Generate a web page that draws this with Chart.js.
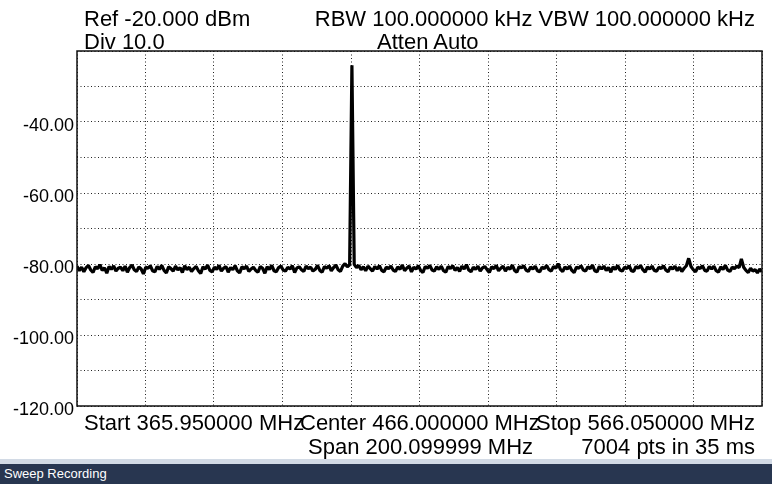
<!DOCTYPE html>
<html>
<head>
<meta charset="utf-8">
<script src="https://cdn.jsdelivr.net/npm/chart.js@4.4.1/dist/chart.umd.min.js"></script>
<style>
  html, body { margin: 0; padding: 0; background: #fff; }
  #wrap { position: relative; width: 772px; height: 484px; overflow: hidden; font-family: "Liberation Sans", Arial, sans-serif; }
  #chartBox { position: absolute; left: 0; top: 0; width: 772px; height: 463px; }
  .lbl { position: absolute; font-size: 22px; line-height: 22px; color: #000; white-space: nowrap; }
  #strip { position: absolute; left: 0; top: 459px; width: 772px; height: 5px; background: #d2dae5; }
  #status { position: absolute; left: 0; top: 464px; width: 772px; height: 20px; background: #283650; color: #fff;
            font-size: 13px; line-height: 20px; padding-left: 4px; box-sizing: border-box; }
</style>
</head>
<body>
<div id="wrap">
  <div id="chartBox"><canvas id="spectrum"></canvas></div>

  <div class="lbl" style="left:84px; top:8px;">Ref -20.000 dBm</div>
  <div class="lbl" style="right:17px; top:8px;">RBW 100.000000 kHz VBW 100.000000 kHz</div>
  <div class="lbl" style="left:84px; top:31px;">Div 10.0</div>
  <div class="lbl" style="left:377px; top:31px;">Atten Auto</div>

  <div class="lbl" style="left:84px; top:412px;">Start 365.950000 MHz</div>
  <div class="lbl" style="left:300px; top:412px;">Center 466.000000 MHz</div>
  <div class="lbl" style="right:17px; top:412px;">Stop 566.050000 MHz</div>
  <div class="lbl" style="left:308px; top:436px;">Span 200.099999 MHz</div>
  <div class="lbl" style="right:17px; top:436px;">7004 pts in 35 ms</div>

  <div id="strip"></div>
  <div id="status">Sweep Recording</div>
</div>

<script>
// sweep settings
const startMHz = 365.95;
const stopMHz = 566.05;
const xDivisions = 10;

// y axis
const refDbm = -20;
const bottomDbm = -120;
const yTickLabels = [-40, -60, -80, -100, -120];

// trace, evenly spaced from start to stop
const traceDbm = [
  -80.6,-81.9,-80.9,-82.2,-81.0,-80.4,-81.7,-82.4,-80.8,-81.3,-80.2,-81.8,-81.1,-82.6,-80.7,-81.5,-80.5,-82.0,-81.2,-80.9,
  -81.9,-80.6,-82.3,-81.0,-80.3,-81.6,-82.1,-80.8,-81.4,-82.8,-80.9,-81.2,-80.5,-81.9,-82.2,-80.7,-81.5,-80.4,-81.8,-82.5,
  -80.8,-81.3,-82.0,-80.6,-81.7,-81.0,-82.4,-80.5,-81.6,-80.9,-82.1,-81.3,-80.7,-81.9,-82.7,-80.8,-81.4,-80.3,-81.8,-82.2,
  -80.9,-81.5,-80.4,-82.0,-81.2,-80.7,-82.3,-81.0,-81.6,-80.5,-81.9,-82.5,-80.8,-81.3,-80.6,-82.1,-81.4,-80.9,-81.8,-82.3,
  -80.7,-81.2,-82.6,-80.8,-81.5,-80.4,-81.9,-82.2,-81.0,-80.6,-81.7,-82.0,-80.9,-81.4,-80.5,-82.4,-81.1,-80.8,-81.6,-82.1,
  -80.6,-81.3,-80.9,-82.0,-81.5,-80.4,-81.8,-82.3,-80.7,-81.2,-80.5,-81.9,-81.0,-80.3,-81.6,-82.1,-80.6,-79.9,-80.8,-80.2,
  -24.0,-80.1,-81.0,-80.4,-81.6,-80.8,-81.9,-80.6,-81.3,-82.0,-80.7,-81.4,-80.5,-81.8,-82.2,-80.9,-81.3,-80.6,-81.7,-82.1,
  -80.8,-81.5,-80.3,-81.9,-81.1,-80.6,-82.2,-80.9,-81.4,-80.5,-81.8,-82.4,-80.7,-81.2,-80.4,-81.7,-82.0,-80.8,-81.5,-80.6,
  -81.9,-82.3,-80.7,-81.3,-80.5,-81.8,-81.0,-82.1,-80.6,-81.4,-80.2,-81.7,-82.2,-80.9,-81.5,-80.6,-82.0,-81.1,-80.7,-81.6,
  -82.4,-80.8,-81.3,-80.4,-81.9,-81.2,-80.6,-82.0,-80.9,-81.5,-80.3,-81.8,-82.3,-80.7,-81.1,-80.5,-81.7,-82.1,-80.8,-81.4,
  -80.6,-81.9,-82.2,-80.9,-81.3,-80.4,-81.6,-82.0,-80.7,-81.2,-79.9,-81.5,-82.1,-80.8,-81.4,-80.6,-81.8,-82.4,-80.9,-81.2,
  -80.5,-81.7,-82.0,-80.8,-81.3,-80.3,-81.9,-82.2,-80.7,-81.4,-80.6,-81.8,-81.0,-82.3,-80.8,-81.5,-80.4,-81.7,-82.0,-80.9,
  -81.3,-80.5,-81.9,-82.1,-80.7,-81.2,-80.4,-81.6,-82.3,-80.8,-81.4,-80.6,-81.8,-82.0,-80.9,-81.3,-80.5,-81.7,-82.2,-80.8,
  -81.4,-80.6,-81.9,-80.9,-82.1,-81.2,-80.5,-78.4,-80.7,-81.6,-82.2,-80.9,-81.3,-80.5,-81.8,-82.0,-80.7,-81.4,-80.6,-81.9,
  -82.3,-80.8,-81.5,-80.4,-81.7,-82.1,-80.9,-81.3,-80.6,-81.0,-78.6,-80.9,-81.8,-82.4,-81.2,-82.0,-81.6,-82.5,-81.4,-82.2
];

const stepMHz = (stopMHz - startMHz) / (traceDbm.length - 1);
const points = traceDbm.map((v, i) => ({ x: startMHz + i * stepMHz, y: v }));

const FONT = '"Liberation Sans", Arial, sans-serif';

// outline round the plot area
const framePlugin = {
  id: 'frame',
  afterDraw(chart) {
    const a = chart.chartArea;
    const c = chart.ctx;
    c.save();
    c.strokeStyle = '#111';
    c.lineWidth = 1.5;
    c.strokeRect(a.left, a.top, a.right - a.left, a.bottom - a.top);
    c.restore();
  }
};

new Chart(document.getElementById('spectrum'), {
  type: 'line',
  data: {
    datasets: [{
      data: points,
      borderColor: '#000',
      borderWidth: 3.2,
      borderJoinStyle: 'bevel',
      pointRadius: 0,
      tension: 0,
      fill: false
    }]
  },
  options: {
    responsive: true,
    maintainAspectRatio: false,
    animation: false,
    layout: { autoPadding: false, padding: { top: 51, right: 10, bottom: 57, left: 0 } },
    plugins: { legend: { display: false }, tooltip: { enabled: false } },
    scales: {
      x: {
        type: 'linear',
        min: startMHz,
        max: stopMHz,
        afterBuildTicks: s => {
          const ticks = [];
          for (let i = 0; i <= xDivisions; i++) ticks.push({ value: startMHz + i * (stopMHz - startMHz) / xDivisions });
          s.ticks = ticks;
        },
        afterFit: s => { s.height = 0; },
        ticks: { display: false },
        grid: { color: '#222', lineWidth: 1, drawTicks: false },
        border: { display: false, dash: [1, 2.5] }
      },
      y: {
        min: bottomDbm,
        max: refDbm,
        afterFit: s => { s.width = 77; },
        ticks: {
          stepSize: 10,
          color: '#000',
          padding: 3,
          labelOffset: 4,
          font: { family: FONT, size: 18 },
          callback: v => yTickLabels.includes(v) ? v.toFixed(2) : ''
        },
        grid: { color: '#222', lineWidth: 1, drawTicks: false },
        border: { display: false, dash: [1, 2.5] }
      }
    }
  },
  plugins: [framePlugin]
});
</script>
</body>
</html>
